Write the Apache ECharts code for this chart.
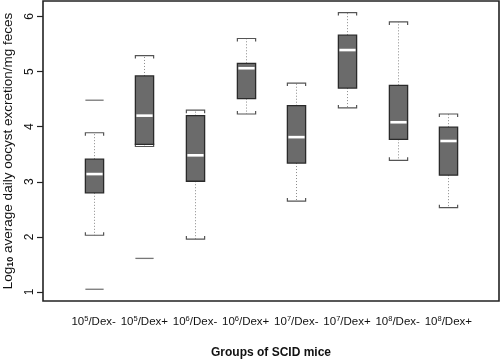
<!DOCTYPE html>
<html>
<head>
<meta charset="utf-8">
<script src="https://cdn.jsdelivr.net/npm/echarts@6/dist/echarts.min.js"></script>
<style>
  html, body { margin: 0; padding: 0; background: #fff; }
  #chart { width: 500px; height: 359px; }
</style>
</head>
<body>
<div id="chart"></div>
<script>
// groups of SCID mice, log10 oocysts / mg feces
const groups = ['10⁵/Dex-', '10⁵/Dex+', '10⁶/Dex-', '10⁶/Dex+', '10⁷/Dex-', '10⁷/Dex+', '10⁸/Dex-', '10⁸/Dex+']
const lowerWhisker = [2.03, 3.64, 1.96, 4.23, 2.65, 4.34, 3.39, 2.53]
const q1 = [2.80, 3.68, 3.01, 4.51, 3.34, 4.70, 3.77, 3.12]
const median = [3.14, 4.20, 3.48, 5.06, 3.81, 5.39, 4.08, 3.74]
const q3 = [3.41, 4.92, 4.20, 5.15, 4.38, 5.66, 4.75, 3.99]
const upperWhisker = [3.89, 5.29, 4.30, 5.60, 4.79, 6.07, 5.90, 4.23]
// [group index, value]
const outliers = [[0, 4.48], [0, 1.05], [1, 1.61]]
const yTicks = [1, 2, 3, 4, 5, 6]

const font = 'Liberation Sans, Arial, sans-serif'
const supDigits = { '⁵': '5', '⁶': '6', '⁷': '7', '⁸': '8' }

const chart = echarts.init(document.getElementById('chart'))

const boxData = groups.map((g, i) => [i + 1, lowerWhisker[i], q1[i], median[i], q3[i], upperWhisker[i]])

// 10⁵/Dex- -> rich text with a raised exponent
function groupLabel(name) {
  const m = name.match(/^10(.)(.*)$/)
  return '{n|10}{s|' + supDigits[m[1]] + '}{n|' + m[2] + '}'
}

function renderBox(params, api) {
  const x = api.value(0)
  const halfW = api.size([1, 0])[0] * 0.18
  const pLow = api.coord([x, api.value(1)])
  const pQ1 = api.coord([x, api.value(2)])
  const pMed = api.coord([x, api.value(3)])
  const pQ3 = api.coord([x, api.value(4)])
  const pHigh = api.coord([x, api.value(5)])
  const cx = Math.round(pQ1[0]) + 0.5
  const dotted = { stroke: '#8a8a8a', lineWidth: 1, lineDash: [1, 2] }
  const cap = { stroke: '#555', lineWidth: 1.2, fill: null }
  return {
    type: 'group',
    children: [
      { type: 'line', shape: { x1: cx, y1: pQ3[1], x2: cx, y2: pHigh[1] }, style: dotted },
      { type: 'line', shape: { x1: cx, y1: pQ1[1], x2: cx, y2: pLow[1] }, style: dotted },
      { type: 'polyline', shape: { points: [[cx - halfW, pHigh[1] + 3], [cx - halfW, pHigh[1]], [cx + halfW, pHigh[1]], [cx + halfW, pHigh[1] + 3]] }, style: cap },
      { type: 'polyline', shape: { points: [[cx - halfW, pLow[1] - 3], [cx - halfW, pLow[1]], [cx + halfW, pLow[1]], [cx + halfW, pLow[1] - 3]] }, style: cap },
      { type: 'rect', shape: { x: cx - halfW, y: pQ3[1], width: halfW * 2, height: pQ1[1] - pQ3[1] }, style: { fill: '#6b6b6b', stroke: '#2a2a2a', lineWidth: 1.3 } },
      { type: 'line', shape: { x1: cx - halfW + 1, y1: pMed[1], x2: cx + halfW - 1, y2: pMed[1] }, style: { stroke: '#fff', lineWidth: 2.6 } }
    ]
  }
}

function renderOutlier(params, api) {
  const x = api.value(0) + 1
  const halfW = api.size([1, 0])[0] * 0.18
  const p = api.coord([x, api.value(1)])
  const cx = Math.round(p[0]) + 0.5
  return {
    type: 'line',
    shape: { x1: cx - halfW, y1: p[1], x2: cx + halfW, y2: p[1] },
    style: { stroke: '#777', lineWidth: 1.3 }
  }
}

chart.setOption({
  animation: false,
  grid: {
    left: 43, right: 1, top: 1, bottom: 58,
    outerBoundsMode: 'none',
    show: true, borderColor: '#222', borderWidth: 1.6, backgroundColor: 'transparent'
  },
  xAxis: {
    type: 'value',
    min: 0,
    max: 9,
    interval: 1,
    splitLine: { show: false },
    axisLine: { show: false },
    axisTick: { show: false },
    axisLabel: {
      margin: 14,
      color: '#111',
      formatter: v => (v >= 1 && v <= groups.length ? groupLabel(groups[v - 1]) : ''),
      rich: {
        n: { fontFamily: font, fontSize: 11.5, color: '#111', lineHeight: 14 },
        s: { fontFamily: font, fontSize: 7.5, color: '#111', lineHeight: 14, padding: [0, 0, 6, 0] }
      }
    },
    name: 'Groups of SCID mice',
    nameLocation: 'middle',
    nameGap: 46,
    nameMoveOverlap: false,
    nameTextStyle: { fontFamily: font, fontSize: 12, fontWeight: 'bold', color: '#111' }
  },
  yAxis: {
    type: 'value',
    min: 0.837,
    max: 6.28,
    splitLine: { show: false },
    axisLine: { show: false },
    axisTick: { show: true, length: 6, lineStyle: { color: '#222', width: 1.2 }, customValues: yTicks },
    axisLabel: {
      rotate: 90,
      margin: 7,
      fontFamily: font,
      fontSize: 12,
      color: '#111',
      customValues: yTicks
    },
    name: '{a|Log}{s|10}{a| average daily oocyst excretion/mg feces}',
    nameLocation: 'middle',
    nameGap: 27,
    nameMoveOverlap: false,
    nameTextStyle: {
      rich: {
        a: { fontFamily: font, fontSize: 13.5, color: '#111', lineHeight: 15 },
        s: { fontFamily: font, fontSize: 9, fontWeight: 'bold', color: '#111', lineHeight: 15, padding: [5, 0, 0, 0] }
      }
    }
  },
  series: [
    {
      type: 'custom',
      renderItem: renderBox,
      data: boxData,
      encode: { x: 0, y: [1, 2, 3, 4, 5] },
      z: 2
    },
    {
      type: 'custom',
      renderItem: renderOutlier,
      data: outliers,
      encode: { x: 0, y: 1 },
      z: 2
    }
  ]
})
</script>
</body>
</html>
